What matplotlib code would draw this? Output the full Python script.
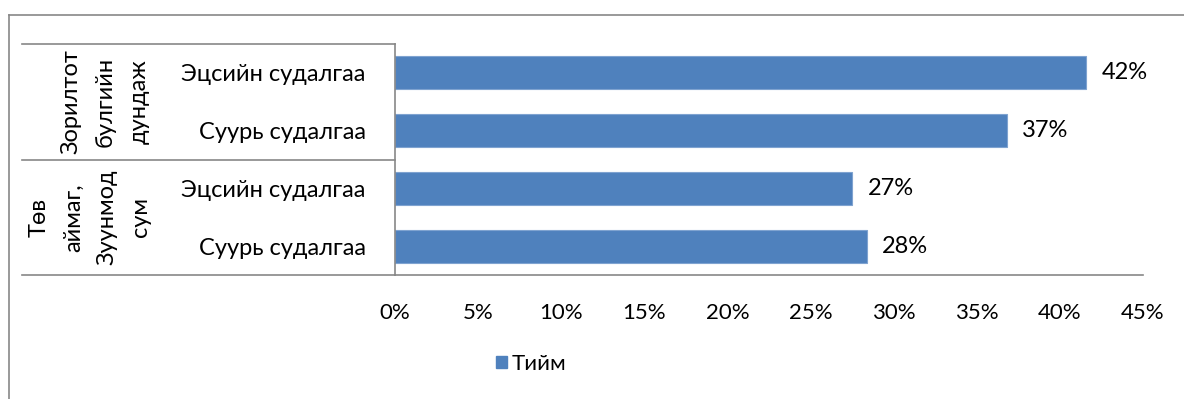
import matplotlib.pyplot as plt
from matplotlib.lines import Line2D
from matplotlib.ticker import FuncFormatter, MultipleLocator
from matplotlib.patches import Patch

plt.rcParams['font.family'] = ['Lato', 'DejaVu Sans']

categories = ['Эцсийн судалгаа', 'Суурь судалгаа', 'Эцсийн судалгаа', 'Суурь судалгаа']
groups = ['Зорилтот\nбулгийн\nдундаж', 'Төв\nаймаг,\nЗуунмод\nсум']
values = [41.6, 36.8, 27.5, 28.4]
labels = ['42%', '37%', '27%', '28%']
series_name = 'Тийм'

W, H = 1184, 399
fig = plt.figure(figsize=(W / 100, H / 100), dpi=100)
ax = fig.add_axes([395 / W, (H - 275) / H, (1143 - 395) / W, (275 - 44) / H])

bar_color = '#4F81BD'
grid_color = '#878787'
ypos = list(range(len(values)))
ax.barh(ypos, values, height=0.57, color=bar_color, edgecolor='#7FA3D0', linewidth=0.8)
for y, v, lab in zip(ypos, values, labels):
    ax.annotate(lab, (v, y), xytext=(11, 0), textcoords='offset points',
                va='center', ha='left', fontsize=17)

ax.set_xlim(0, 45)
ax.set_ylim(len(values) - 0.5, -0.5)
ax.xaxis.set_major_locator(MultipleLocator(5))
ax.xaxis.set_major_formatter(FuncFormatter(lambda x, p: f'{x:.0f}%'))
ax.tick_params(axis='x', length=0, pad=20, labelsize=16)
ax.set_yticks(ypos)
ax.set_yticklabels(categories)
ax.tick_params(axis='y', length=0, pad=21, labelsize=17)
for s in ['top', 'right']:
    ax.spines[s].set_visible(False)
for s in ['left', 'bottom']:
    ax.spines[s].set_color(grid_color)
    ax.spines[s].set_linewidth(1.2)

# multi-level category axis lines
x0 = (22 - 395) / (1143 - 395)
for yy in [0, 0.5, 1]:
    ax.add_line(Line2D([x0, 0], [yy, yy], transform=ax.transAxes, color=grid_color,
                       lw=1.2, clip_on=False))

pos = ax.get_position()
for i, g in enumerate(groups):
    yc = 1 - (i * 2 + 1) / len(values)
    gx = (105 if i == 0 else 90) / W
    fig.text(gx, pos.y0 + yc * pos.height, g,
             rotation=90, ha='center', va='center', multialignment='center',
             fontsize=17, linespacing=1.75)

# outer chart frame
fig.add_artist(Line2D([9 / W, 1], [1 - 15 / H, 1 - 15 / H], transform=fig.transFigure,
                      color=grid_color, lw=1.2))
fig.add_artist(Line2D([9 / W, 9 / W], [0, 1 - 15 / H], transform=fig.transFigure,
                      color=grid_color, lw=1.2))

fig.legend(handles=[Patch(color=bar_color, label=series_name)], loc='center',
           bbox_to_anchor=(531 / W, 1 - 364 / H), frameon=False, fontsize=16,
           handlelength=0.5, handleheight=0.5, handletextpad=0.2)

fig.savefig('out.png', dpi=100)
